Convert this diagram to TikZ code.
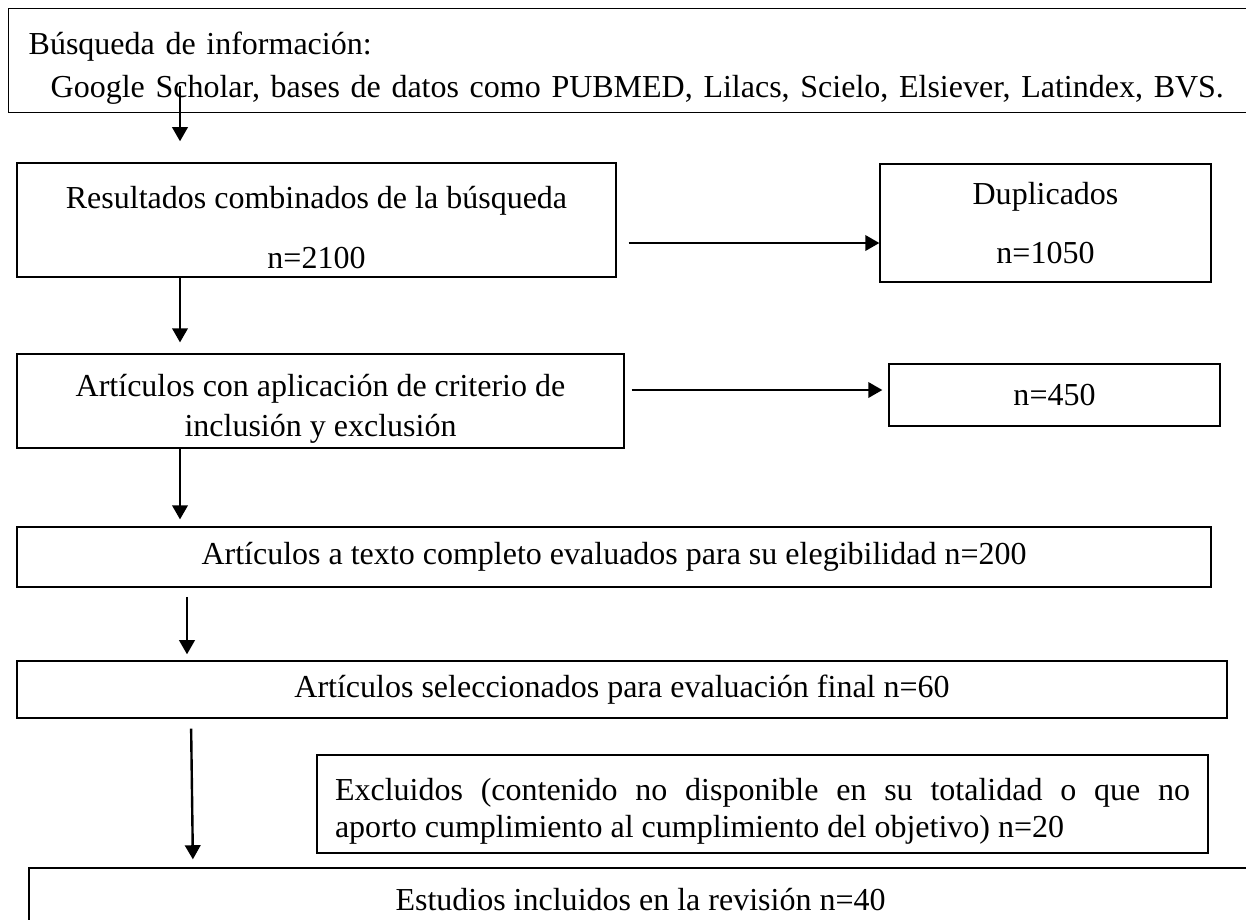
\documentclass[tikz,border=0pt]{standalone}
\usepackage{fontspec}
\setmainfont{Liberation Serif}
\usetikzlibrary{arrows.meta}
\tikzset{
  box/.style={draw, line width=0.5pt, inner sep=0pt, align=center, font=\fontsize{12pt}{14pt}\selectfont},
  bajo/.style={execute at begin node={\rule{0pt}{14pt}}},
  arr/.style={-{Triangle[length=5.3pt,width=5.8pt]}, line width=0.9pt},
}
\begin{document}
\begin{tikzpicture}[x=0.375pt, y=-0.375pt]
  \useasboundingbox (0,0) rectangle (1246,919);
  % cajas
  \node[box, bajo, anchor=north west, minimum height=39pt, text width=469.5pt, inner xsep=7.5pt, align=left] (busq) at (8,8)
    {Búsqueda de información:\\[2.2pt]\hspace*{8.25pt}Google Scholar, bases de datos como PUBMED, Lilacs, Scielo, Elsiever, Latindex, BVS.};
  \node[box, bajo, text width=224.6pt, align=flush center, minimum height=42.75pt] (comb) at (316.5,220) {Resultados combinados de la búsqueda\\[8.6pt]n=2100};
  \node[box, minimum width=124.1pt, minimum height=44.25pt] (dupl) at (1045.5,223) {Duplicados\\[8pt]n=1050};
  \node[box, bajo, text width=227.6pt, align=flush center, minimum height=35.25pt] (crit) at (320.5,401) {Artículos con aplicación de criterio de\\[1pt]inclusión y exclusión};
  \node[box, minimum width=124.1pt, minimum height=23.25pt] (n450) at (1054.5,395) {n=450};
  \node[box, minimum width=447.75pt, minimum height=22.5pt] (compl) at (614,557) {Artículos a texto completo evaluados para su elegibilidad n=200};
  \node[box, minimum width=453.75pt, minimum height=21.4pt] (selec) at (622,689.5) {Artículos seleccionados para evaluación final n=60};
  \node[box, bajo, minimum height=36.75pt, text width=320.6pt, inner xsep=6.75pt, align=justify] (excl) at (762.5,804)
    {Excluidos (contenido no disponible en su totalidad o que no\linebreak aporto cumplimiento al cumplimiento del objetivo) n=20};
  \node[box, minimum width=458.6pt, minimum height=24pt] (incl) at (640.5,900) {Estudios incluidos en la revisión n=40};
  % flechas
  \coordinate (c1) at (180,0);
  \coordinate (c2) at (187,0);
  \coordinate (c3) at (191,0);
  \coordinate (c4) at (193,0);
  \coordinate (r1) at (0,243);
  \coordinate (r2) at (0,390);
  \draw[arr, shorten <=-10.1pt, shorten >=7.9pt] (busq.south -| c1) -- (comb.north -| c1);
  \draw[arr, shorten <=4.5pt] (comb.east |- r1) -- (dupl.west |- r1);
  \draw[arr, shorten >=4.1pt] (comb.south -| c1) -- (crit.north -| c1);
  \draw[arr, shorten <=2.6pt, shorten >=2.25pt] (crit.east |- r2) -- (n450.west |- r2);
  \draw[arr, shorten >=2.6pt] (crit.south -| c1) -- (compl.north -| c1);
  \draw[arr, shorten <=3.4pt, shorten >=2.25pt] (compl.south -| c2) -- (selec.north -| c2);
  \draw[arr, shorten <=3.75pt, shorten >=3pt] (selec.south -| c3) -- (incl.north -| c4);
\end{tikzpicture}
\end{document}
